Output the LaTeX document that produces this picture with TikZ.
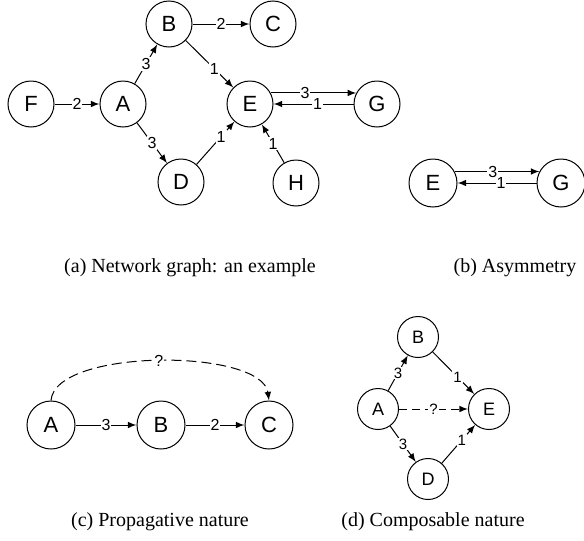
\documentclass[tikz,border=0pt]{standalone}
\usepackage{fontspec}
\setmainfont{Liberation Serif}
\setsansfont{Liberation Sans}
\usetikzlibrary{calc}

\begin{document}
\begin{tikzpicture}[x=0.5pt,y=-0.5pt,>=latex,line width=0.5pt,
	vertex/.style={circle,draw,inner sep=0pt,minimum size=23pt,font=\sffamily\fontsize{11}{12}\selectfont},
	bigvertex/.style={vertex,minimum size=24pt},
	smallvertex/.style={vertex,minimum size=20.5pt,font=\sffamily\fontsize{9}{10}\selectfont},
	weight/.style={fill=white,inner sep=0.5pt,font=\sffamily\fontsize{8}{9}\selectfont},
	smallweight/.style={weight,font=\sffamily\fontsize{7.5}{8.5}\selectfont},
	unknown/.style={->,dash pattern=on 5pt off 2.5pt},
	caption/.style={font=\fontsize{10}{12}\selectfont}]

	\useasboundingbox (0,0) rectangle (584,541);

	% (a) network graph
	\draw
		(31,104) node[vertex] (F1) {F}
		(123,104) node[vertex] (A1) {A}
		(169,24) node[vertex] (B1) {B}
		(273,24) node[vertex] (C1) {C}
		(181,182) node[vertex] (D1) {D}
		(250,104) node[vertex] (E1) {E}
		(377,104) node[vertex] (G1) {G}
		(296,183) node[vertex] (H1) {H};

	\draw[->]
		(F1) -- node[weight] {2} (A1);
	\draw[->]
		(A1) -- node[weight] {3} (B1);
	\draw[->]
		(A1) -- node[weight] {3} (D1);
	\draw[->]
		(B1) -- node[weight] {2} (C1);
	\draw[->]
		(B1) -- node[weight,pos=0.6] {1} (E1);
	\draw[->]
		(D1) -- node[weight,pos=0.65] {1} (E1);
	\draw[->]
		(H1) -- node[weight] {1} (E1);
	\draw[->]
		(E1.28) -- node[weight,pos=0.4] {3} (G1.152);
	\draw[->]
		(G1) -- node[weight,pos=0.45] {1} (E1);

	\node[caption] (capa) at (190,268) {(a) Network graph: an example};

	% (b) asymmetry
	\draw
		(433,183) node[bigvertex] (E2) {E}
		(561,183) node[bigvertex] (G2) {G};

	\draw[->]
		(E2.28) -- node[weight,pos=0.45] {3} (G2.152);
	\draw[->]
		(G2) -- node[weight,pos=0.45] {1} (E2);

	\node[caption] (capb) at (515,268) {(b) Asymmetry};

	% (c) propagative nature
	\draw
		(51,425) node[bigvertex] (A3) {A}
		(161,425) node[bigvertex] (B3) {B}
		(269,425) node[bigvertex] (C3) {C};

	\draw[->]
		(A3) -- node[weight] {3} (B3);
	\draw[->]
		(B3) -- node[weight] {2} (C3);
	\draw[unknown]
		(A3.north) .. controls (55,348) and (262,348) .. (C3.north)
		node[weight,pos=0.5] {?};

	\node[caption] (capc) at (160,522) {(c) Propagative nature};

	% (d) composable nature
	\draw
		(378,409) node[smallvertex] (A4) {A}
		(418,337) node[smallvertex] (B4) {B}
		(489,409) node[smallvertex] (E4) {E}
		(428,479) node[smallvertex] (D4) {D};

	\draw[->]
		(A4) -- node[smallweight] {3} (B4);
	\draw[->]
		(B4) -- node[smallweight,pos=0.6] {1} (E4);
	\draw[->]
		(A4) -- node[smallweight] {3} (D4);
	\draw[->]
		(D4) -- node[smallweight,pos=0.6] {1} (E4);
	\draw[unknown,dash pattern=on 4pt off 2.5pt]
		(A4) -- node[smallweight] {?} (E4);

	\node[caption] (capd) at (433,522) {(d) Composable nature};
\end{tikzpicture}
\end{document}
